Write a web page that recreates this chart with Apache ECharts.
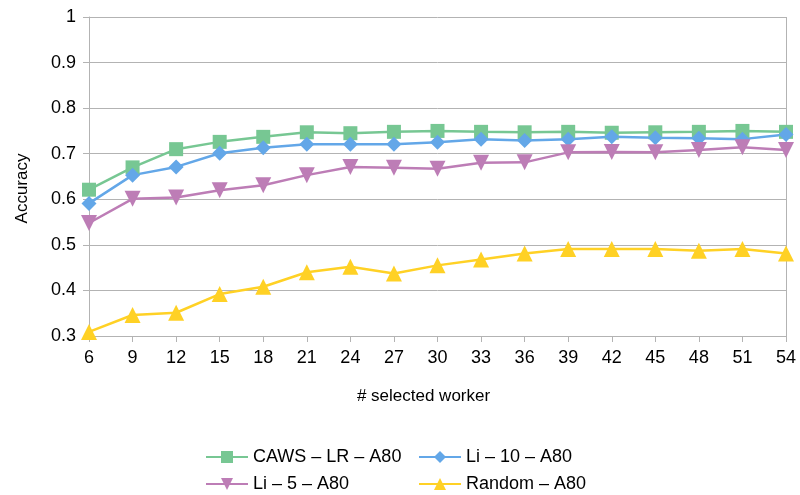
<!DOCTYPE html>
<html>
<head>
<meta charset="utf-8">
<script src="https://cdn.jsdelivr.net/npm/echarts@6/dist/echarts.min.js"></script>
<style>html,body{margin:0;padding:0;background:#fff}#c{width:800px;height:495px}</style>
</head>
<body>
<div id="c"></div>
<script>
const categories = ['6','9','12','15','18','21','24','27','30','33','36','39','42','45','48','51','54'];
const cawsLR = [0.621,0.670,0.710,0.726,0.737,0.747,0.745,0.748,0.750,0.748,0.747,0.748,0.746,0.747,0.748,0.750,0.748];
const li10 = [0.591,0.653,0.671,0.701,0.713,0.721,0.721,0.721,0.725,0.732,0.729,0.732,0.737,0.735,0.734,0.732,0.742];
const li5 = [0.548,0.601,0.604,0.620,0.631,0.653,0.671,0.669,0.667,0.680,0.681,0.703,0.704,0.703,0.708,0.714,0.708];
const random = [0.309,0.346,0.351,0.392,0.408,0.440,0.452,0.437,0.455,0.468,0.481,0.491,0.491,0.491,0.487,0.491,0.481];
const names = ['CAWS – LR – A80','Li – 10 – A80','Li – 5 – A80','Random – A80'];

const font = 'Liberation Sans, Arial, sans-serif';
const chart = echarts.init(document.getElementById('c'));
function mk(name, data, color, symbol, size, rotate) {
  return {
    name, type: 'line', data, symbol, symbolSize: size, symbolRotate: rotate || 0,
    lineStyle: { color, width: 2.5 }, itemStyle: { color },
    animation: false
  };
}
function leg(name, left, top) {
  return { left, top, itemWidth: 42, itemHeight: 15, padding: 0, itemGap: 0,
    textStyle: { fontSize: 18, color: '#000', fontFamily: font },
    data: [name] };
}
chart.setOption({
  animation: false,
  textStyle: { fontFamily: font },
  grid: { left: 89, right: 14, top: 17, bottom: 159 },
  legend: [
    leg(names[0], 205, 448),
    leg(names[1], 418, 448),
    leg(names[2], 205, 475),
    leg(names[3], 418, 475)
  ],
  xAxis: {
    type: 'category', data: categories, boundaryGap: false,
    name: '# selected worker', nameLocation: 'middle', nameGap: 52,
    nameTextStyle: { fontSize: 17, color: '#000', fontFamily: font, padding: [0, 28, 0, 0] },
    axisLine: { lineStyle: { color: '#b3b3b3', width: 1 } },
    axisTick: { show: true, length: 6, lineStyle: { color: '#b3b3b3' } },
    axisLabel: { fontSize: 18, color: '#000', margin: 13, fontFamily: font },
    splitLine: { show: true, interval: (i) => i === categories.length - 1, lineStyle: { color: '#b3b3b3' } }
  },
  yAxis: {
    type: 'value', min: 0.3, max: 1, interval: 0.1,
    name: 'Accuracy', nameLocation: 'middle', nameGap: 58,
    nameTextStyle: { fontSize: 17, color: '#000', fontFamily: font, padding: [0, 24, 0, 0] },
    axisLine: { show: true, lineStyle: { color: '#b3b3b3', width: 1 } },
    axisTick: { show: true, length: 6, lineStyle: { color: '#b3b3b3' } },
    axisLabel: { fontSize: 18, color: '#000', margin: 13, fontFamily: font,
      formatter: (v) => String(+v.toFixed(1)) },
    splitLine: { show: true, lineStyle: { color: '#b3b3b3', width: 1 } }
  },
  series: [
    mk(names[0], cawsLR, '#77c793', 'rect', 14),
    mk(names[1], li10, '#63a7e8', 'diamond', 15),
    mk(names[2], li5, '#bd7db6', 'triangle', 16, 180),
    mk(names[3], random, '#ffd125', 'triangle', 16)
  ]
});
</script>
</body>
</html>
